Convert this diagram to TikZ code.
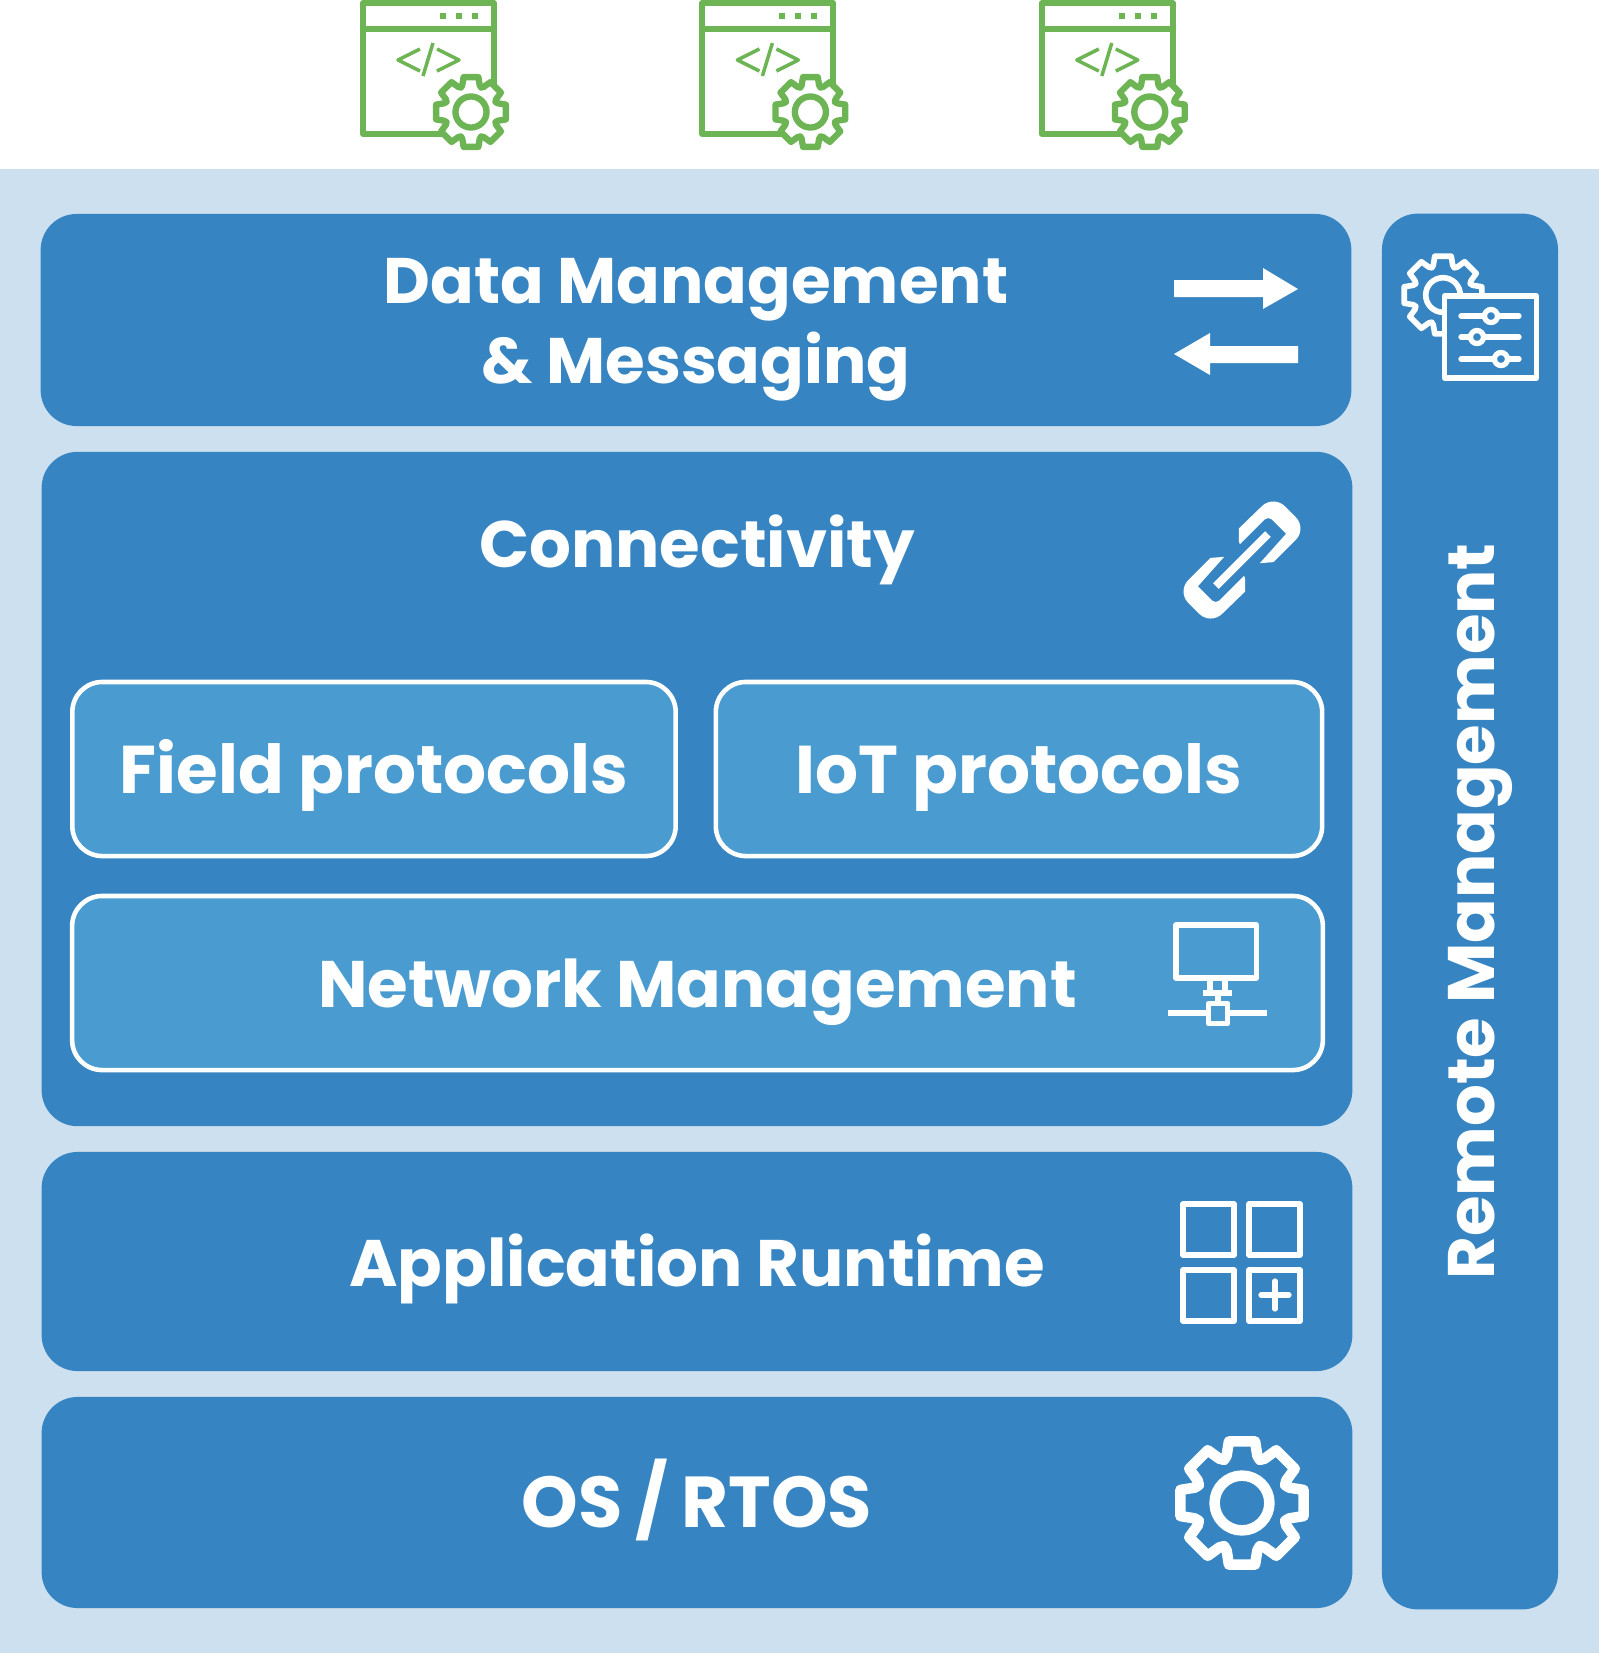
\documentclass[tikz,border=0pt]{standalone}
\usepackage{fontspec}
\setmainfont{Poppins}
\usepackage{xcolor}
\usetikzlibrary{positioning}
\definecolor{backblue}{HTML}{CCE0EF}
\definecolor{panelblue}{HTML}{3685C2}
\definecolor{innerblue}{HTML}{4A9BCF}
\definecolor{codegreen}{HTML}{6DB554}
\tikzset{
    labeltext/.style={text=white, inner sep=0pt, align=center, text height=14pt, text depth=0pt,
        font=\fontsize{18.7}{22.8}\selectfont\bfseries},
    panel/.style={labeltext, fill=panelblue, rounded corners=0.36cm},
    innerpanel/.style={panel, fill=innerblue, draw=white, line width=1.3pt, rounded corners=0.3cm},
    iconline/.style={draw=white, line width=1.5pt, line join=round},
    gearicon/.pic={
        \path[pic actions, line join=round] (90-12:62)
            \foreach \a in {90,135,...,405}{
                -- (\a-12:62) -- (\a+12:62) -- (\a+18:49) -- (\a+22.5:46) -- (\a+27:49)
            } -- cycle;
        \path[pic actions] (0,0) circle (27);
    },
    codewindow/.pic={
        \draw[codegreen, line width=1.7pt, line join=round] (363,3) rectangle (494,134);
        \draw[codegreen, line width=1.7pt] (363,29) -- (494,29);
        \foreach \x in {443,459,475}
            \fill[codegreen] (\x-3,13) rectangle (\x+3,19);
        \draw[codegreen, line width=1pt, line join=round] (420,49) -- (398,60) -- (420,71);
        \draw[codegreen, line width=1pt] (433,43) -- (423,76);
        \draw[codegreen, line width=1pt, line join=round] (437,49) -- (459,60) -- (437,71);
        \pic[draw=codegreen, fill=white, line width=1.8pt, scale=0.575] at (471,112) {gearicon};
    }
}

\begin{document}
\begin{tikzpicture}[x=0.01cm, y=-0.01cm]
    \useasboundingbox (0,0) rectangle (1599,1653);

    % Background
    \fill[backblue] (0,169) rectangle (1599,1653);

    % Code windows on top
    \foreach \x/\n in {0/one,339.4/two,678.8/three}
        \pic (win\n) at (\x,0) {codewindow};

    % Panels
    \node[panel, minimum width=13.1cm, minimum height=2.12cm] (data) at (696,320) {};
    \node[labeltext, text height=, text depth=, yshift=-0.1cm, font=\fontsize{18.3}{22.8}\selectfont\bfseries] (datalabel) at (data) {Data Management\\\& Messaging};
    \node[panel, minimum width=13.1cm, minimum height=6.74cm] (conn) at (697,789) {};
    \node[panel, minimum width=13.1cm, minimum height=2.19cm] (app) at (697,1261.5) {Application Runtime};
    \node[panel, minimum width=13.1cm, minimum height=2.11cm, font=\fontsize{20.5}{22.8}\selectfont\bfseries] (os) at (697,1502.5) {OS\hspace{0.18em}/\hspace{0.18em}RTOS};
    \node[panel, rotate=90, minimum width=13.95cm, minimum height=1.76cm] (remote) at (1470,911.5) {Remote Management};

    % Inside connectivity
    \node[labeltext] (connlabel) at (697,543) {Connectivity};
    \node[innerpanel, minimum width=6.03cm, minimum height=1.74cm, font=\fontsize{19.2}{22.8}\selectfont\bfseries] (field) at (374,769) {Field protocols};
    \node[innerpanel, minimum width=6.06cm, minimum height=1.74cm, font=\fontsize{19.2}{22.8}\selectfont\bfseries] (iot) at (1019,769) {IoT protocols};
    \node[innerpanel, minimum width=12.5cm, minimum height=1.74cm] (net) at (697.5,983) {Network Management};

    % Arrows
    \fill[white] (1174,280) -- (1263,280) -- (1263,268) -- (1298,289) -- (1263,309) -- (1263,297) -- (1174,297) -- cycle;
    \fill[white] (1174,354) -- (1210,333) -- (1210,346) -- (1298,346) -- (1298,363) -- (1210,363) -- (1210,375) -- cycle;

    % Link
    \foreach \r in {0,180} {
        \begin{scope}[shift={(1242,560)}, rotate=\r, scale=1.05]
            \fill[white] (-3,-18) -- (-3,-30) [rounded corners=0.16cm] -- (30,-62) -- (62,-30) [sharp corners]
                -- (30,2) -- (17,3) -- (42,-25) [rounded corners=0.05cm] -- (25,-42) [sharp corners] -- (-2,-15) -- cycle;
        \end{scope}
    }
    \draw[white, line width=2.3pt] (1242+26,560-26) -- (1242-26,560+26);

    % Network
    \draw[iconline] (1176,925) rectangle (1256.5,978);
    \draw[iconline] (1210,978) -- (1210,993) (1225,978) -- (1225,993) (1203,993) -- (1232,993) (1218,993) -- (1218,1003);
    \draw[iconline] (1208.5,1003.5) rectangle (1227.5,1023.5);
    \draw[iconline] (1168,1013) -- (1208.5,1013) (1227.5,1013) -- (1267,1013);

    % Application grid
    \foreach \x in {1183,1249}
        \foreach \y in {1204,1270}
            \draw[iconline] (\x,\y) rectangle (\x+51,\y+51);
    \draw[iconline, line cap=round] (1261,1295) -- (1289,1295) (1275,1281) -- (1275,1309);

    % Gear of OS
    \pic[draw=white, line width=3pt, scale=1.015] at (1242,1503) {gearicon};

    % Remote icon
    \pic[draw=white, fill=panelblue, line width=1.6pt, scale=0.64] at (1443,295) {gearicon};
    \draw[iconline, fill=panelblue] (1444.5,296) rectangle (1536.5,378);
    \foreach \y/\k in {316/1491,337/1477,359/1501} {
        \draw[white, line width=1.5pt, line cap=round] (1461,\y) -- (1519,\y);
        \draw[draw=white, fill=panelblue, line width=1.5pt] (\k,\y) circle (6.5);
    }
\end{tikzpicture}
\end{document}
